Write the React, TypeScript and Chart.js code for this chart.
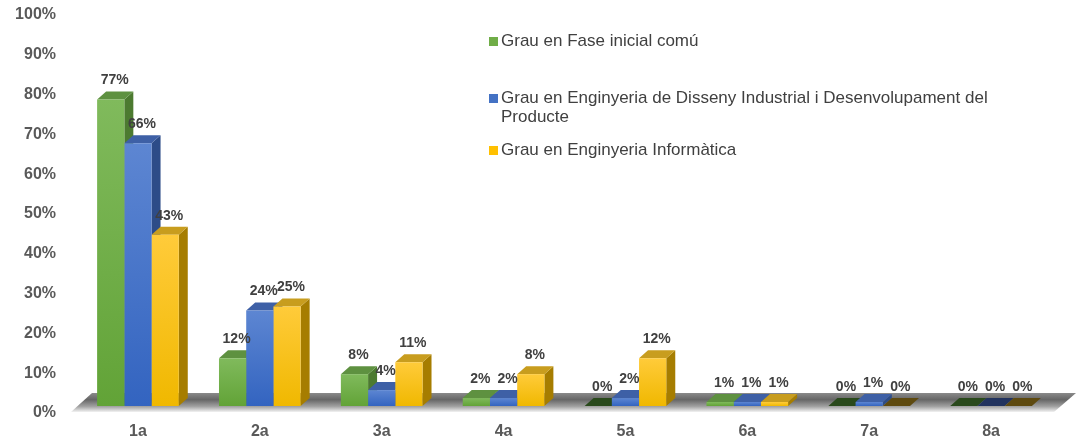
import React, { useEffect, useRef } from "react";
import { Chart, registerables } from "chart.js";

Chart.register(...registerables);

const categories = ["1a", "2a", "3a", "4a", "5a", "6a", "7a", "8a"];
const faseInicial = [77, 12, 8, 2, 0, 1, 0, 0];
const dissenyIndustrial = [66, 24, 4, 2, 2, 1, 1, 0];
const informatica = [43, 25, 11, 8, 12, 1, 0, 0];
const seriesNames = [
  "Grau en Fase inicial comú",
  "Grau en Enginyeria de Disseny Industrial i Desenvolupament del Producte",
  "Grau en Enginyeria Informàtica",
];

type Palette = { light: string; dark: string; side: string; top: string; zero: string; legend: string };
const palettes: Palette[] = [
  { light: "#80ba5c", dark: "#62a337", side: "#4c7a30", top: "#5e9140", zero: "#2a4a1c", legend: "#70ad47" },
  { light: "#5d86d2", dark: "#3364c0", side: "#2d4c88", top: "#3e60a6", zero: "#22335e", legend: "#4472c4" },
  { light: "#ffcb3a", dark: "#f0b800", side: "#a67d00", top: "#c89d1e", zero: "#5e4a10", legend: "#ffc000" },
];

const FONT = "'Liberation Sans', Arial, sans-serif";
const DX = 9;
const DY = 8;

const threeD = {
  id: "threeD",
  beforeDatasetsDraw(chart: any) {
    const ctx = chart.ctx;
    const area = chart.chartArea;
    const y0 = chart.scales.y.getPixelForValue(0);
    // floor
    ctx.save();
    const fTop = y0 - 13;
    const fBot = y0 + 6;
    const g = ctx.createLinearGradient(0, fTop, 0, fBot);
    g.addColorStop(0, "#8a8a8a");
    g.addColorStop(0.35, "#666666");
    g.addColorStop(0.7, "#a0a0a0");
    g.addColorStop(1, "#f2f2f2");
    ctx.fillStyle = g;
    ctx.beginPath();
    ctx.moveTo(area.left - 6, fBot);
    ctx.lineTo(area.left + 15, fTop);
    ctx.lineTo(area.right + 24, fTop);
    ctx.lineTo(area.right + 2, fBot);
    ctx.closePath();
    ctx.fill();
    // sides and tops
    for (let i = 0; i < categories.length; i++) {
      for (let d = 0; d < chart.data.datasets.length; d++) {
        const meta = chart.getDatasetMeta(d);
        const el: any = meta.data[i];
        if (!el) continue;
        const p = palettes[d];
        const w = el.width;
        const left = el.x - w / 2;
        const right = el.x + w / 2;
        const top = el.y;
        const base = el.base;
        const isZero = base - top < 0.5;
        if (!isZero) {
          ctx.fillStyle = p.side;
          ctx.beginPath();
          ctx.moveTo(right, top);
          ctx.lineTo(right + DX, top - DY);
          ctx.lineTo(right + DX, base - DY);
          ctx.lineTo(right, base);
          ctx.closePath();
          ctx.fill();
        }
        ctx.fillStyle = isZero ? p.zero : p.top;
        ctx.beginPath();
        ctx.moveTo(left, top);
        ctx.lineTo(left + DX, top - DY);
        ctx.lineTo(right + DX, top - DY);
        ctx.lineTo(right, top);
        ctx.closePath();
        ctx.fill();
      }
    }
    ctx.restore();
  },
  afterDatasetsDraw(chart: any) {
    const ctx = chart.ctx;
    ctx.save();
    ctx.font = `bold 14px ${FONT}`;
    ctx.fillStyle = "#404040";
    ctx.textAlign = "center";
    ctx.textBaseline = "middle";
    chart.data.datasets.forEach((ds: any, d: number) => {
      const meta = chart.getDatasetMeta(d);
      meta.data.forEach((el: any, i: number) => {
        ctx.fillText(`${ds.data[i]}%`, el.x + 4, el.y - 19);
      });
    });
    ctx.restore();
  },
};

function makeBg(p: Palette) {
  return (c: any) => {
    const chart = c.chart;
    if (c.type !== "data" || !chart.chartArea) return p.dark;
    const ys = chart.scales.y;
    const top = ys.getPixelForValue(c.raw);
    const base = ys.getPixelForValue(0);
    if (base - top < 1) return p.dark;
    const g = chart.ctx.createLinearGradient(0, top, 0, base);
    g.addColorStop(0, p.light);
    g.addColorStop(1, p.dark);
    return g;
  };
}

export default function App() {
  const ref = useRef<HTMLCanvasElement | null>(null);
  useEffect(() => {
    if (!ref.current) return;
    const series = [faseInicial, dissenyIndustrial, informatica];
    const chart = new Chart(ref.current, {
      type: "bar",
      data: {
        labels: categories,
        datasets: series.map((data, d) => ({
          label: seriesNames[d],
          data,
          backgroundColor: makeBg(palettes[d]),
          borderWidth: 0,
          categoryPercentage: 0.67,
          barPercentage: 1,
        })),
      },
      plugins: [threeD],
      options: {
        responsive: false,
        animation: false,
        layout: { padding: { top: 8, right: 25, left: 0, bottom: 0 } },
        plugins: { legend: { display: false }, tooltip: { enabled: false } },
        scales: {
          x: {
            grid: { display: false, drawTicks: false },
            border: { display: false },
            ticks: {
              color: "#595959",
              font: { family: FONT, size: 16, weight: "bold" },
              padding: 16,
            },
            afterFit: (s: any) => {
              s.height = 39;
              s.paddingLeft = 0;
              s.paddingRight = 0;
            },
          },
          y: {
            min: 0,
            max: 100,
            grid: { display: false, drawTicks: false },
            border: { display: false },
            ticks: {
              stepSize: 10,
              color: "#595959",
              font: { family: FONT, size: 16, weight: "bold" },
              padding: 21,
              labelOffset: 7,
              callback: (v: any) => `${v}%`,
            },
            afterFit: (s: any) => {
              s.width = 77;
              s.paddingTop = 0;
              s.paddingBottom = 0;
            },
          },
        },
      } as any,
    });
    return () => chart.destroy();
  }, []);

  const textStyle: React.CSSProperties = {
    position: "absolute",
    left: 501,
    fontFamily: FONT,
    fontSize: 17,
    lineHeight: "19px",
    color: "#404040",
    whiteSpace: "nowrap",
  };
  const sq = (color: string, top: number): React.CSSProperties => ({
    position: "absolute",
    left: 489,
    top,
    width: 9,
    height: 9,
    background: color,
  });

  return (
    <div style={{ position: "absolute", left: 0, top: 0, width: 1077, height: 445, background: "#fff" }}>
      <canvas ref={ref} width={1077} height={445} style={{ display: "block" }} />
      <div style={sq(palettes[0].legend, 37)} />
      <div style={{ ...textStyle, top: 31 }}>{seriesNames[0]}</div>
      <div style={sq(palettes[1].legend, 94)} />
      <div style={{ ...textStyle, top: 88 }}>
        <div>Grau en Enginyeria de Disseny Industrial i Desenvolupament del</div>
        <div>Producte</div>
      </div>
      <div style={sq(palettes[2].legend, 146)} />
      <div style={{ ...textStyle, top: 140 }}>{seriesNames[2]}</div>
    </div>
  );
}
